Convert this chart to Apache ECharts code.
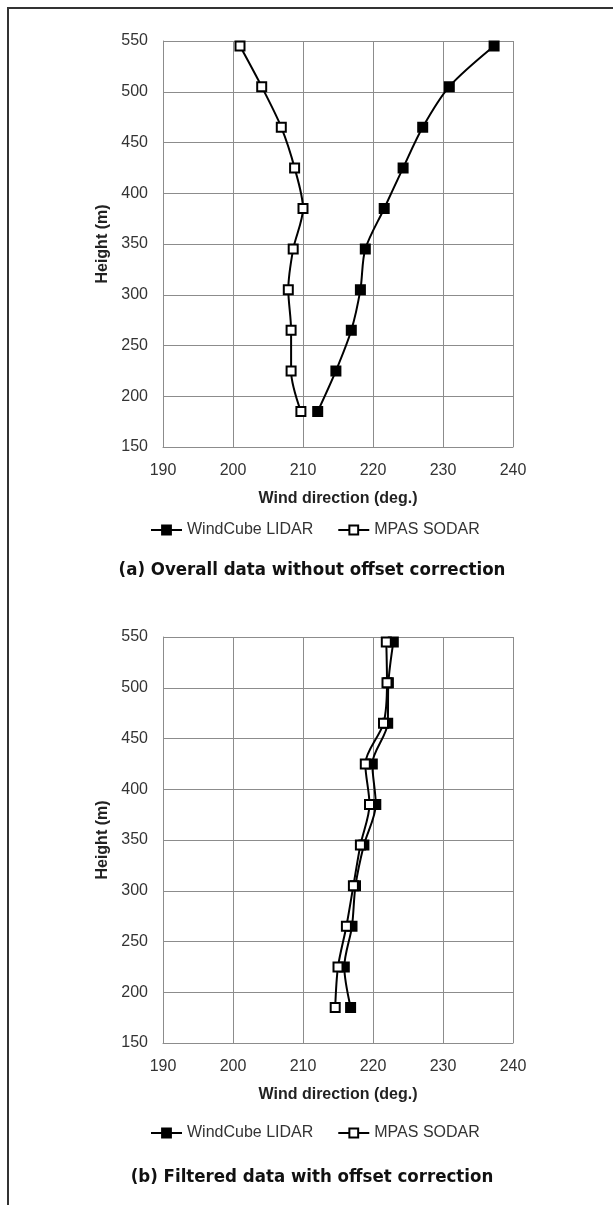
<!DOCTYPE html>
<html>
<head>
<meta charset="utf-8">
<title>Wind direction profiles</title>
<script src="https://cdn.jsdelivr.net/npm/echarts@6/dist/echarts.min.js"></script>
<style>
  html, body { margin: 0; padding: 0; background: #fff; }
  #main { width: 613px; height: 1205px; }
</style>
</head>
<body>
<div id="main"></div>
<script>
// heights (m) of each measurement level
var heights = [185, 225, 265, 305, 345, 385, 425, 465, 505, 545];
// (a) overall data, no offset correction
var lidarA = [212.1, 214.7, 216.9, 218.2, 218.9, 221.6, 224.3, 227.1, 230.9, 237.3];
var sodarA = [209.7, 208.3, 208.3, 207.9, 208.6, 210.0, 208.8, 206.9, 204.1, 201.0];
// (b) filtered data, offset corrected
var lidarB = [216.8, 215.9, 217.0, 217.5, 218.7, 220.4, 219.9, 222.1, 222.2, 222.9];
var sodarB = [214.6, 215.0, 216.2, 217.2, 218.2, 219.5, 218.9, 221.5, 222.0, 221.9];

var seriesNames = ['WindCube LIDAR', 'MPAS SODAR'];
var captions = ['(a) Overall data without offset correction', '(b) Filtered data with offset correction'];

// layout of the two panels
var gridTops = [41, 637];
var plotH = 406;
var legendTops = [517, 1120];
var captionTops = [561, 1168];

function pairs(xs) {
  var out = [];
  for (var i = 0; i < xs.length; i++) {
    out.push([xs[i], heights[i]]);
  }
  return out;
}

function makeSeries(name, xs, idx, filled) {
  return {
    name: name,
    type: 'line',
    xAxisIndex: idx,
    yAxisIndex: idx,
    data: pairs(xs),
    smooth: 0.3,
    symbol: 'rect',
    symbolSize: 9,
    lineStyle: { color: '#000', width: 2 },
    itemStyle: {
      color: filled ? '#000' : '#fff',
      borderColor: '#000',
      borderWidth: 2
    },
    z: filled ? 2 : 3
  };
}

var chart = echarts.init(document.getElementById('main'));

var grids = [], xAxes = [], yAxes = [], legends = [], series = [], graphics = [];
var sets = [[lidarA, sodarA], [lidarB, sodarB]];

for (var k = 0; k < 2; k++) {
  grids.push({ left: 163, top: gridTops[k], width: 350, height: plotH });
  xAxes.push({
    gridIndex: k,
    type: 'value',
    min: 190,
    max: 240,
    interval: 10,
    name: 'Wind direction (deg.)',
    nameLocation: 'middle',
    nameGap: 44,
    nameTextStyle: { fontFamily: 'Liberation Sans', fontWeight: 'bold', fontSize: 16, color: '#222' },
    axisLine: { show: true, lineStyle: { color: '#8c8c8c', width: 1 } },
    axisTick: { show: false },
    axisLabel: { margin: 16, fontFamily: 'Liberation Sans', fontSize: 16, color: '#333' },
    splitLine: { show: true, lineStyle: { color: '#8c8c8c', width: 1 } }
  });
  yAxes.push({
    gridIndex: k,
    type: 'value',
    min: 150,
    max: 550,
    interval: 50,
    name: 'Height (m)',
    nameLocation: 'middle',
    nameGap: 45,
    nameTextStyle: { fontFamily: 'Liberation Sans', fontWeight: 'bold', fontSize: 16, color: '#222' },
    axisLine: { show: true, lineStyle: { color: '#8c8c8c', width: 1 } },
    axisTick: { show: false },
    axisLabel: { margin: 15, fontFamily: 'Liberation Sans', fontSize: 16, color: '#333' },
    splitLine: { show: true, lineStyle: { color: '#8c8c8c', width: 1 } }
  });
  series.push(makeSeries(seriesNames[0], sets[k][0], k, true));
  series.push(makeSeries(seriesNames[1], sets[k][1], k, false));
  legends.push({
    left: 145,
    top: legendTops[k],
    itemWidth: 31,
    itemHeight: 11,
    itemGap: 24,
    data: seriesNames,
    textStyle: { fontFamily: 'Liberation Sans', fontSize: 16, color: '#333' },
    selectedMode: false
  });
  graphics.push({
    type: 'text',
    x: 312,
    y: captionTops[k],
    style: {
      text: captions[k],
      align: 'center',
      verticalAlign: 'top',
      font: 'bold 18.5px "DejaVu Sans Condensed", "DejaVu Sans", sans-serif',
      fill: '#111'
    }
  });
}

// outer frame: top and left edges only
graphics.push({
  type: 'polyline',
  shape: { points: [[8, 1205], [8, 8], [613, 8]] },
  style: { stroke: '#333', lineWidth: 2, fill: null },
  silent: true
});

chart.setOption({
  animation: false,
  backgroundColor: '#fff',
  grid: grids,
  xAxis: xAxes,
  yAxis: yAxes,
  legend: legends,
  series: series,
  graphic: graphics
});
</script>
</body>
</html>
